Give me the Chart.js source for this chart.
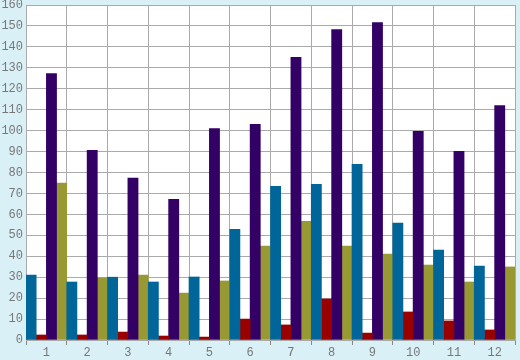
<!DOCTYPE html>
<html><head><meta charset="utf-8">
<script src="https://cdn.jsdelivr.net/npm/chart.js@4/dist/chart.umd.min.js"></script>
<style>html,body{margin:0;padding:0;background:#daf0f7;}#wrap{width:520px;height:360px;}</style>
</head><body><div id="wrap"><canvas id="c" width="520" height="360"></canvas></div>
<script>
const categories = ['1','2','3','4','5','6','7','8','9','10','11','12'];
const seriesBlue   = [31, 27.7, 30, 27.7, 30.1, 52.9, 73.4, 74.4, 83.9, 55.8, 43, 35.3];
const seriesRed    = [2.4, 2.4, 3.8, 1.9, 1.4, 10, 7.2, 19.6, 3.3, 13.4, 9.1, 4.8];
const seriesPurple = [127.3, 90.6, 77.3, 67.2, 101, 103, 135, 148.3, 151.6, 99.7, 90.1, 112];
const seriesOlive  = [74.9, 29.6, 31, 22.4, 28.2, 44.8, 56.7, 44.8, 41, 35.8, 27.7, 34.9];
const yTicks = [0,10,20,30,40,50,60,70,80,90,100,110,120,130,140,150,160];

const bgPlugin = {
  id:'bg',
  beforeDraw(chart){
    const {ctx, chartArea:a} = chart;
    ctx.save();
    ctx.fillStyle = '#daf0f7';
    ctx.fillRect(0,0,chart.width,chart.height);
    ctx.fillStyle = '#ffffff';
    ctx.fillRect(a.left,a.top,a.right-a.left,a.bottom-a.top);
    ctx.restore();
  }
};
const font = {family:'"Liberation Mono", monospace', size:12};
new Chart(document.getElementById('c'), {
  type:'bar',
  data:{
    labels:categories,
    datasets:[
      {data:seriesBlue, backgroundColor:'#006699'},
      {data:seriesRed, backgroundColor:'#990000'},
      {data:seriesPurple, backgroundColor:'#330066'},
      {data:seriesOlive, backgroundColor:'#999933'}
    ]
  },
  options:{
    responsive:false, animation:false,
    layout:{padding:{top:5,right:5,left:0,bottom:0}},
    datasets:{bar:{categoryPercentage:1, barPercentage:1}},
    plugins:{legend:{display:false}, tooltip:{enabled:false}},
    scales:{
      x:{
        offset:true,
        grid:{offset:true, color:'#aaaaaa', lineWidth:1, tickLength:5, tickColor:'#888888'},
        border:{color:'#aaaaaa'},
        ticks:{color:'#777777', font:font, padding:1, maxRotation:0},
        afterFit(s){ s.height = 20; s.paddingLeft = 0; s.paddingRight = 0; }
      },
      y:{
        min:0, max:160,
        afterBuildTicks(s){ s.ticks = yTicks.map(v=>({value:v})); },
        grid:{color:'#aaaaaa', lineWidth:1, drawTicks:false},
        border:{color:'#aaaaaa'},
        ticks:{color:'#777777', font:font, padding:3},
        afterFit(s){ s.width = 26; s.paddingTop = 0; s.paddingBottom = 0; }
      }
    }
  },
  plugins:[bgPlugin]
});
</script></body></html>
